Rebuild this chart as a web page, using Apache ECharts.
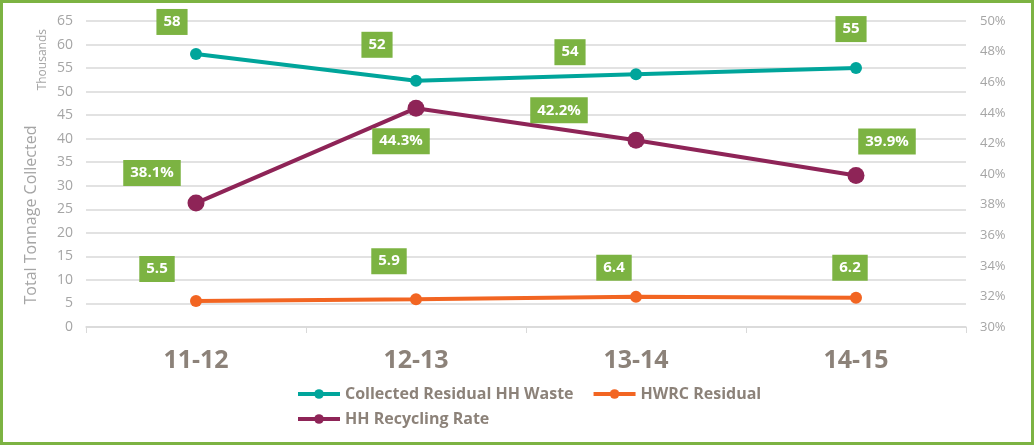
<!DOCTYPE html>
<html>
<head>
<meta charset="utf-8">
<script src="https://cdn.jsdelivr.net/npm/echarts@6/dist/echarts.min.js"></script>
<style>
  html, body { margin: 0; padding: 0; background: #fff; }
  #wrap { width: 1034px; height: 445px; box-sizing: border-box; border: 3px solid #7cb342; position: relative; }
  #chart { position: absolute; left: -3px; top: -3px; width: 1034px; height: 445px; }
</style>
</head>
<body>
<div id="wrap"><div id="chart"></div></div>
<script>
var years = ['11-12', '12-13', '13-14', '14-15'];
var residual = [58.0, 52.3, 53.7, 55.0];
var residualLabels = ['58', '52', '54', '55'];
var hwrc = [5.5, 5.9, 6.4, 6.2];
var recycling = [38.1, 44.3, 42.2, 39.9];

// where each green label box sits relative to its point
var residualOffsets = [[-24, -32], [-39, -36], [-66, -22], [-5, -39]];
var hwrcOffsets = [[-39, -32], [-27, -38], [-22, -29], [-6, -30]];
var recyclingOffsets = [[-44, -30], [-15, 33], [-77, -30], [31, -34]];

var font = '"Open Sans", sans-serif';
var grey = '#a5a5a5';
var labelGreen = '#7cb342';

function boxLabel() {
  return {
    show: true,
    position: 'inside',
    backgroundColor: labelGreen,
    color: '#fff',
    fontFamily: font,
    fontWeight: 'bold',
    fontSize: 15,
    padding: [6, 7, 5, 7]
  };
}

function points(values, offsets, texts) {
  return values.map(function (v, i) {
    return {
      value: v,
      label: { offset: offsets[i], formatter: texts[i] }
    };
  });
}

var chart = echarts.init(document.getElementById('chart'));

var legendText = { color: '#8c8279', fontFamily: font, fontWeight: 'bold', fontSize: 16 };

var option = {
  animation: false,
  grid: { left: 86, right: 68, top: 21, bottom: 118 },
  legend: [{
    left: 291, top: 381,
    itemWidth: 42, itemHeight: 12, itemGap: 18,
    lineStyle: { width: 4 },
    textStyle: legendText,
    data: ['Collected Residual HH Waste', 'HWRC Residual']
  }, {
    left: 291, top: 406,
    itemWidth: 42, itemHeight: 12,
    lineStyle: { width: 4 },
    textStyle: legendText,
    data: ['HH Recycling Rate']
  }],
  xAxis: {
    type: 'category',
    data: years,
    boundaryGap: true,
    axisLine: { lineStyle: { color: '#d9d9d9', width: 1.5 } },
    axisTick: { show: true, length: 6, lineStyle: { color: '#d9d9d9' } },
    axisLabel: { color: '#8c8279', fontFamily: font, fontWeight: 'bold', fontSize: 25, margin: 21 }
  },
  yAxis: [{
    type: 'value',
    min: 0, max: 65, interval: 5,
    name: 'Total Tonnage Collected',
    nameLocation: 'middle',
    nameGap: 47,
    nameTextStyle: { color: grey, fontFamily: font, fontSize: 16, padding: [0, 82, 0, 0] },
    axisLine: { show: false },
    axisTick: { show: false },
    axisLabel: { color: grey, fontFamily: font, fontSize: 14, margin: 13 },
    splitLine: { lineStyle: { color: '#d9d9d9', width: 1.5 } }
  }, {
    type: 'value',
    min: 30, max: 50, interval: 2,
    axisLine: { show: false },
    axisTick: { show: false },
    axisLabel: { color: grey, fontFamily: font, fontSize: 13, margin: 14, formatter: '{value}%' },
    splitLine: { show: false }
  }],
  graphic: [{
    type: 'text',
    left: 37, top: 29,
    rotation: Math.PI / 2,
    style: { text: 'Thousands', fill: grey, font: '12px "Open Sans", sans-serif' }
  }],
  series: [{
    name: 'Collected Residual HH Waste',
    type: 'line',
    data: points(residual, residualOffsets, residualLabels),
    symbol: 'circle', symbolSize: 12,
    itemStyle: { color: '#00a59b' },
    lineStyle: { width: 4, color: '#00a59b' },
    label: boxLabel(),
    z: 3
  }, {
    name: 'HWRC Residual',
    type: 'line',
    data: points(hwrc, hwrcOffsets, hwrc.map(String)),
    symbol: 'circle', symbolSize: 12,
    itemStyle: { color: '#f26522' },
    lineStyle: { width: 4, color: '#f26522' },
    label: boxLabel(),
    z: 3
  }, {
    name: 'HH Recycling Rate',
    type: 'line',
    yAxisIndex: 1,
    data: points(recycling, recyclingOffsets, recycling.map(function (v) { return v.toFixed(1) + '%'; })),
    symbol: 'circle', symbolSize: 17,
    itemStyle: { color: '#8e2457' },
    lineStyle: { width: 4, color: '#8e2457' },
    label: boxLabel(),
    z: 3
  }]
};

chart.setOption(option);
</script>
</body>
</html>
